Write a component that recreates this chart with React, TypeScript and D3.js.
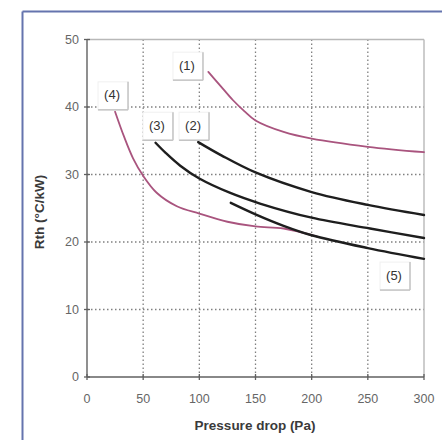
import React from "react";
import * as d3 from "d3";

const xTicks = [0, 50, 100, 150, 200, 250, 300];
const yTicks = [0, 10, 20, 30, 40, 50];

const curve1X = [108, 119, 130, 140, 150, 175, 200, 250, 300];
const curve1Y = [45.2, 43.1, 41.0, 39.4, 38.0, 36.3, 35.3, 34.1, 33.3];

const curve2X = [99, 120, 150, 200, 250, 300];
const curve2Y = [34.8, 32.8, 30.3, 27.4, 25.5, 24.0];

const curve3X = [61, 70, 83, 100, 127, 154, 200, 252, 300];
const curve3Y = [34.7, 33.2, 31.3, 29.4, 27.3, 25.7, 23.6, 22.0, 20.6];

const curve4X = [25, 33, 41, 50, 62, 80, 100, 125, 150, 175, 205];
const curve4Y = [39.3, 35.6, 32.4, 29.8, 27.3, 25.3, 24.2, 23.0, 22.3, 22.0, 20.8];

const curve5X = [128, 150, 175, 200, 250, 300];
const curve5Y = [25.8, 24.1, 22.4, 21.0, 19.1, 17.5];

const labelTexts = ["(1)", "(4)", "(3)", "(2)", "(5)"];
const labelX = [89, 22.3, 62.3, 94.4, 273.3];
const labelY = [46.2, 41.8, 37.3, 37.3, 15.1];

const PINK = "#a9547e";
const BLACK = "#1e1e1e";

export default function App() {
  const W = 442;
  const H = 440;
  const x = d3.scaleLinear().domain([0, 300]).range([87, 424]);
  const y = d3.scaleLinear().domain([0, 50]).range([377, 39.5]);

  const line = d3
    .line<[number, number]>()
    .x((d) => x(d[0]))
    .y((d) => y(d[1]))
    .curve(d3.curveCatmullRom.alpha(0.5));

  const mk = (xs: number[], ys: number[]) => line(xs.map((v, i) => [v, ys[i]] as [number, number])) || "";

  const series = [
    { d: mk(curve1X, curve1Y), c: PINK, w: 1.8 },
    { d: mk(curve4X, curve4Y), c: PINK, w: 1.8 },
    { d: mk(curve2X, curve2Y), c: BLACK, w: 2.4 },
    { d: mk(curve3X, curve3Y), c: BLACK, w: 2.4 },
    { d: mk(curve5X, curve5Y), c: BLACK, w: 2.4 },
  ];

  const [x0, x1] = x.range();
  const [y0, y1] = y.range();
  const font = "Liberation Sans, Arial, sans-serif";

  return (
    <svg
      width={W}
      height={H}
      style={{ position: "fixed", left: 0, top: 0, background: "#fff" }}
      fontFamily={font}
    >
      <rect x={0} y={0} width={W} height={H} fill="#fff" />
      {/* outer frame */}
      <line x1={22.5} y1={11.5} x2={W} y2={11.5} stroke="#6574ae" strokeWidth={2} />
      <line x1={22.5} y1={11.5} x2={22.5} y2={H} stroke="#6574ae" strokeWidth={2} />

      {/* grid */}
      {xTicks.slice(1, -1).map((t) => (
        <line key={"gx" + t} x1={x(t)} x2={x(t)} y1={y1} y2={y0} stroke="#808080" strokeWidth={1.3} strokeDasharray="1.5,2.5" />
      ))}
      {yTicks.slice(1, -1).map((t) => (
        <line key={"gy" + t} x1={x0} x2={x1} y1={y(t)} y2={y(t)} stroke="#808080" strokeWidth={1.3} strokeDasharray="1.5,2.5" />
      ))}

      {/* plot box top/right */}
      <line x1={x0} x2={x1} y1={y1} y2={y1} stroke="#b8b8b8" strokeWidth={1.4} />
      <line x1={x1} x2={x1} y1={y1} y2={y0} stroke="#b8b8b8" strokeWidth={1.4} />

      {/* axes */}
      <line x1={x0} x2={x1} y1={y0} y2={y0} stroke="#606060" strokeWidth={1.4} />
      <line x1={x0} x2={x0} y1={y1} y2={y0} stroke="#606060" strokeWidth={1.4} />
      {xTicks.map((t) => (
        <g key={"tx" + t}>
          <line x1={x(t)} x2={x(t)} y1={y0 - 3} y2={y0 + 3} stroke="#606060" strokeWidth={1.3} />
          <text x={x(t)} y={399} textAnchor="middle" dominantBaseline="central" fontSize={12.5} fill="#666">
            {t}
          </text>
        </g>
      ))}
      {yTicks.map((t) => (
        <g key={"ty" + t}>
          <line x1={x0 - 3} x2={x0 + 3} y1={y(t)} y2={y(t)} stroke="#606060" strokeWidth={1.3} />
          <text x={79} y={y(t)} textAnchor="end" dominantBaseline="central" fontSize={12.5} fill="#666">
            {t}
          </text>
        </g>
      ))}

      {/* curves */}
      {series.map((s, i) => (
        <path key={"s" + i} d={s.d} fill="none" stroke={s.c} strokeWidth={s.w} strokeLinecap="round" />
      ))}

      {/* labels */}
      {labelTexts.map((t, i) => {
        const cx = x(labelX[i]);
        const cy = y(labelY[i]);
        return (
          <g key={"l" + i}>
            <rect x={cx - 14} y={cy - 13} width={30} height={28} fill="#fff" stroke="#f0f0f0" strokeWidth={1} />
            <line x1={cx + 16} x2={cx + 16} y1={cy - 13} y2={cy + 15} stroke="#c4c4c4" strokeWidth={1.5} />
            <line x1={cx - 14} x2={cx + 16} y1={cy + 15} y2={cy + 15} stroke="#c4c4c4" strokeWidth={1.5} />
            <text x={cx} y={cy} textAnchor="middle" dominantBaseline="central" fontSize={13} fill="#333">
              {t}
            </text>
          </g>
        );
      })}

      {/* axis titles */}
      <text x={255} y={425} textAnchor="middle" dominantBaseline="central" fontSize={13.5} fontWeight="bold" fill="#3a3a3a">
        Pressure drop (Pa)
      </text>
      <text
        transform={`translate(39,212) rotate(-90)`}
        textAnchor="middle"
        dominantBaseline="central"
        fontSize={13.5}
        fontWeight="bold"
        fill="#3a3a3a"
      >
        Rth (°C/kW)
      </text>
    </svg>
  );
}
